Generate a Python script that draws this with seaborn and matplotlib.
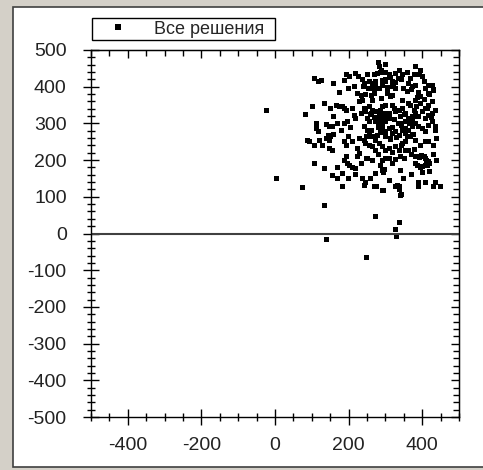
import matplotlib
matplotlib.use("Agg")
import matplotlib.pyplot as plt
from matplotlib.patches import Rectangle
from matplotlib.ticker import MultipleLocator, NullFormatter
import seaborn as sns
import pandas as pd

legend_label = "Все решения"

x_vals = [
    -22, 4, 75, 135, 140, 273, 327, 338, 331, 248, 293, 275, 296, 298, 333, 338, 344,
    281, 285, 290, 383, 220, 227, 195, 202, 252, 270, 279, 288, 328, 337, 346, 310,
    108, 117, 126, 159, 189, 238, 243, 256, 265, 274, 292, 301, 319, 328, 369, 378,
    392, 400, 405, 429, 432, 418, 364, 373, 383,
    274, 283, 292, 306, 319, 328, 175, 225, 234, 247, 261, 270, 306, 319, 391, 396,
    387, 382, 417, 290, 135, 103, 364, 427, 346, 265, 238,
    83, 166, 175, 184, 189, 193, 211, 216, 220, 243, 247, 256, 261, 265, 274, 283,
    288, 292, 297, 301, 310, 319, 324, 328, 337, 346, 351, 355, 369, 378, 382, 391,
    400, 409, 418, 427, 436, 189, 198, 112, 114, 139, 148, 157, 283, 292, 274, 301,
    310, 288, 342, 364, 373, 409, 252, 256, 234, 418,
    117, 243, 252, 256, 265, 274, 279, 288, 292, 301, 310, 319, 328, 337, 346, 355,
    364, 373, 382, 391, 400, 409, 418, 427, 436, 87, 94, 108, 121, 139, 146, 151,
    148, 148, 157, 189, 193, 243, 247, 256, 265, 274, 283, 292, 301, 310, 319, 328,
    337, 346, 355, 369, 382, 396, 409, 418, 225, 229, 225, 364,
    193, 189, 198, 202, 211, 220, 108, 135, 171, 292, 288, 301, 328, 351, 382, 391,
    400, 409, 418, 409, 396, 382, 342, 157, 184, 171, 274, 292, 238, 247, 243, 184,
    270, 294, 328, 337, 342, 391, 391, 409, 436, 432, 450, 392, 398, 405, 412, 419,
    415, 402, 388, 300, 312, 323, 335, 262, 270, 305, 315, 350, 360, 372, 285, 296,
    320, 340, 355, 250, 262, 280, 360, 375, 315, 330, 345, 300, 230, 205, 160, 130,
    300, 315, 345, 360, 395, 410, 420, 268, 255, 240, 215, 200, 150, 160, 170, 180,
    200, 210, 230, 260, 270, 280, 290, 300, 315, 325, 335, 345, 355, 365, 375, 385,
    395, 405, 415, 425, 435, 440, 430, 380, 370, 355, 340, 320, 310, 280, 265, 250,
    235, 220, 200, 260, 310, 350, 370, 400, 420, 430, 440, 300
]

y_vals = [
    334, 151, 126, 76, -15, 47, 11, 31, -7, -65, 116, 127, 167, 175, 131, 120, 107,
    465, 454, 445, 456, 436, 429, 434, 427, 434, 432, 436, 438, 436, 444, 432, 434,
    423, 413, 418, 409, 416, 420, 409, 414, 409, 414, 418, 413, 413, 411, 423, 432,
    434, 427, 413, 404, 391, 404, 409, 400, 404,
    400, 395, 402, 398, 400, 395, 383, 382, 377, 380, 377, 382, 382, 377, 383, 374,
    371, 363, 382, 368, 354, 347, 354, 359, 363, 363, 363,
    324, 350, 345, 347, 341, 336, 341, 322, 313, 341, 332, 345, 327, 336, 332, 323,
    336, 345, 327, 318, 327, 350, 341, 332, 336, 341, 323, 327, 350, 336, 327, 318,
    332, 341, 350, 327, 336, 300, 304, 300, 286, 298, 291, 292, 309, 313, 304, 304,
    313, 300, 318, 313, 304, 313, 313, 304, 327, 322,
    277, 291, 282, 272, 263, 254, 268, 282, 291, 277, 286, 272, 277, 268, 282, 272,
    282, 291, 300, 291, 286, 277, 295, 304, 291, 254, 252, 240, 254, 259, 268, 265,
    254, 231, 227, 250, 240, 254, 245, 240, 236, 227, 245, 236, 227, 231, 222, 236,
    227, 245, 250, 263, 254, 240, 250, 250, 231, 218, 209, 227,
    209, 200, 191, 186, 181, 177, 190, 177, 181, 200, 186, 204, 201, 204, 210, 210,
    210, 204, 195, 186, 181, 190, 172, 159, 163, 150, 163, 172, 150, 140, 131, 127,
    127, 118, 127, 127, 104, 140, 127, 138, 140, 127, 127, 208, 212, 210, 200, 192,
    184, 182, 186, 420, 428, 405, 422, 395, 388, 390, 372, 395, 388, 392, 320, 316,
    290, 300, 305, 265, 280, 300, 265, 270, 255, 262, 240, 350, 360, 290, 270, 240,
    440, 425, 420, 440, 445, 395, 380, 395, 395, 400, 400, 395, 340, 320, 300, 280,
    265, 250, 260, 325, 315, 290, 275, 265, 260, 310, 300, 295, 285, 300, 320, 345,
    355, 365, 340, 315, 280, 260, 240, 230, 215, 225, 210, 190, 205, 215, 200, 205,
    190, 160, 150, 150, 145, 150, 160, 165, 170, 215, 200, 460
]

df = pd.DataFrame({"x": x_vals, "y": y_vals, "series": legend_label})

sns.set_style("white")
plt.rcParams["font.family"] = ["Liberation Sans", "DejaVu Sans"]
plt.rcParams["axes.unicode_minus"] = False

W, H = 483, 470
fig = plt.figure(figsize=(W / 100, H / 100), dpi=100)
fig.patch.set_facecolor("#d4d0c8")
# white panel with dark border, drawn beneath the axes
panel = Rectangle((13 / W, 1 - 467 / H), (W - 13 + 6) / W, (467 - 7) / H,
                  transform=fig.transFigure, facecolor="white",
                  edgecolor="#404040", linewidth=1.2, zorder=-10)
fig.patches.append(panel)

# legend box outline
legbox = Rectangle((92 / W, 1 - 40 / H), (275 - 92) / W, (40 - 18) / H,
                   transform=fig.transFigure, facecolor="white",
                   edgecolor="black", linewidth=1.0, zorder=-5)
fig.patches.append(legbox)

ax = fig.add_axes([91 / W, 1 - 417 / H, (459 - 91) / W, (417 - 50) / H])
ax.set_zorder(5)
ax.set_facecolor("white")

sns.scatterplot(data=df, x="x", y="y", hue="series", palette=["black"],
                marker="s", s=13, linewidth=0, ax=ax, legend=True)

ax.axhline(0, color="#404040", linewidth=1.5, zorder=1)

ax.set_xlim(-500, 500)
ax.set_ylim(-500, 500)
ax.xaxis.set_major_locator(MultipleLocator(200))
ax.xaxis.set_minor_locator(MultipleLocator(50))
ax.yaxis.set_major_locator(MultipleLocator(100))
ax.yaxis.set_minor_locator(MultipleLocator(20))
ax.set_xlabel("")
ax.set_ylabel("")

for s in ax.spines.values():
    s.set_color("black")
    s.set_linewidth(1.0)

ax.tick_params(axis="both", which="both", direction="inout", color="black",
               labelsize=14, labelcolor="#222222", bottom=True, left=True,
               top=False, right=False)
ax.tick_params(axis="x", which="major", length=11, width=1, pad=9)
ax.tick_params(axis="x", which="minor", length=6, width=1)
ax.tick_params(axis="y", which="major", length=11, width=1, pad=12)
ax.tick_params(axis="y", which="minor", length=6, width=1)

# inward ticks on top and right
top = ax.secondary_xaxis("top")
top.xaxis.set_major_locator(MultipleLocator(200))
top.xaxis.set_minor_locator(MultipleLocator(50))
top.xaxis.set_major_formatter(NullFormatter())
top.tick_params(which="both", direction="in", color="black", top=True)
top.tick_params(which="major", length=6, width=1)
top.tick_params(which="minor", length=4, width=1)
top.spines["top"].set_color("black")

right = ax.secondary_yaxis("right")
right.yaxis.set_major_locator(MultipleLocator(100))
right.yaxis.set_minor_locator(MultipleLocator(20))
right.yaxis.set_major_formatter(NullFormatter())
right.tick_params(which="both", direction="in", color="black", right=True)
right.tick_params(which="major", length=6, width=1)
right.tick_params(which="minor", length=4, width=1)
right.spines["right"].set_color("black")

leg = ax.legend(loc="center left", bbox_to_anchor=(92 / W, 1 - 29 / H),
                bbox_transform=fig.transFigure, frameon=False,
                fontsize=13, borderpad=0.15, handletextpad=0.7,
                borderaxespad=0, markerscale=1.0, handlelength=2.6)

fig.savefig("out.png", dpi=100, facecolor=fig.get_facecolor())
